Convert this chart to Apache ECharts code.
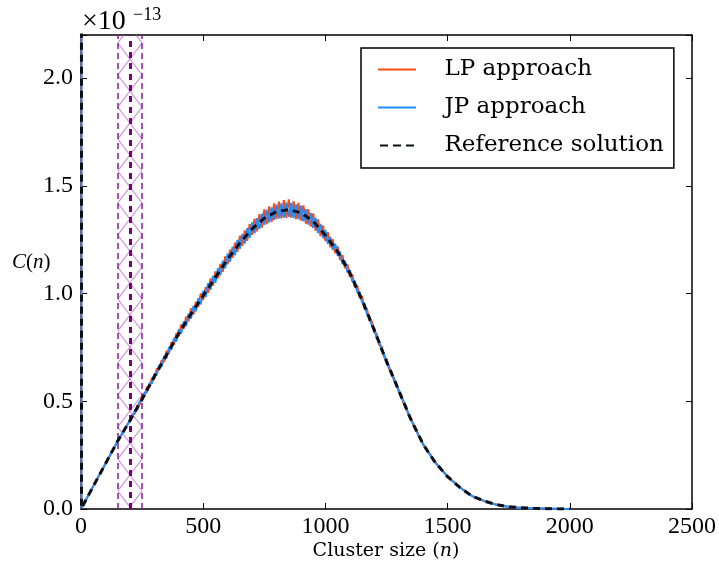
<!DOCTYPE html>
<html><head><meta charset="utf-8">
<script src="https://cdn.jsdelivr.net/npm/echarts@6/dist/echarts.min.js"></script>
<style>html,body{margin:0;padding:0;background:#fff}#c{width:719px;height:567px}</style>
</head><body><div id="c"></div>
<script>
// ---- data (C(n) in units of 1e-13) ----
const xTicks = [0, 500, 1000, 1500, 2000, 2500];
const yTicks = [0.0, 0.5, 1.0, 1.5, 2.0];
const yMax = 2.2;
const regionEdges = [150, 250];
const regionCentre = 200;

// monomer spike at the start (off the top of the chart)
const spikeN = [1, 2];
const spikeLP = [25, 0.004];
const spikeJP = [25, 0.004];
const spikeRef = [25, 0.004];

// LP / JP sampled every 10 from n=10 to n=2000
const lpValues = [
0.021,0.042,0.063,0.084,0.105,0.126,0.147,0.168,0.189,0.21,
0.232,0.251,0.274,0.293,0.316,0.333,0.355,0.371,0.394,0.407,
0.438,0.442,0.481,0.484,0.523,0.522,0.566,0.565,0.607,0.603,
0.651,0.646,0.691,0.683,0.734,0.722,0.774,0.762,0.816,0.801,
0.856,0.836,0.893,0.871,0.931,0.903,0.962,0.938,1.001,0.971,
1.029,1.003,1.069,1.036,1.103,1.071,1.137,1.101,1.172,1.136,
1.204,1.166,1.236,1.193,1.268,1.221,1.293,1.245,1.322,1.272,
1.347,1.289,1.368,1.306,1.391,1.322,1.404,1.333,1.418,1.346,
1.426,1.349,1.433,1.351,1.437,1.352,1.429,1.345,1.421,1.339,
1.409,1.324,1.392,1.311,1.372,1.291,1.344,1.267,1.316,1.243,
1.285,1.215,1.252,1.187,1.219,1.155,1.178,1.117,1.136,1.078,
1.089,1.029,1.038,0.981,0.987,0.929,0.929,0.874,0.872,0.819,
0.814,0.762,0.755,0.705,0.696,0.65,0.641,0.597,0.586,0.544,
0.531,0.49,0.476,0.437,0.422,0.388,0.375,0.342,0.328,0.297,
0.288,0.263,0.253,0.229,0.219,0.2,0.192,0.174,0.166,0.148,
0.143,0.128,0.122,0.109,0.102,0.091,0.086,0.075,0.069,0.06,
0.056,0.05,0.047,0.041,0.038,0.033,0.031,0.026,0.024,0.02,
0.018,0.016,0.014,0.012,0.01,0.009,0.008,0.007,0.006,0.006,
0.005,0.005,0.004,0.004,0.003,0.003,0.003,0.002,0.002,0.002,
0.002,0.001,0.001,0.001,0.001,0.001,0.001,0,0,0];

const jpValues = [
0.021,0.042,0.063,0.084,0.105,0.126,0.147,0.168,0.189,0.21,
0.23,0.253,0.272,0.295,0.314,0.335,0.352,0.373,0.39,0.413,
0.424,0.457,0.462,0.499,0.501,0.541,0.542,0.584,0.583,0.627,
0.622,0.668,0.661,0.71,0.7,0.751,0.739,0.792,0.777,0.833,
0.814,0.87,0.849,0.907,0.884,0.943,0.917,0.978,0.95,1.013,
0.984,1.048,1.017,1.082,1.05,1.117,1.084,1.152,1.117,1.186,
1.148,1.217,1.178,1.248,1.207,1.276,1.232,1.303,1.258,1.33,
1.28,1.35,1.299,1.371,1.319,1.388,1.33,1.4,1.341,1.413,
1.349,1.418,1.352,1.422,1.356,1.421,1.35,1.414,1.345,1.408,
1.335,1.391,1.32,1.374,1.305,1.351,1.281,1.323,1.257,1.295,
1.231,1.263,1.203,1.231,1.175,1.194,1.137,1.152,1.099,1.11,
1.056,1.059,1.007,1.007,0.959,0.953,0.904,0.896,0.849,0.839,
0.793,0.78,0.736,0.721,0.679,0.664,0.626,0.609,0.573,0.554,
0.519,0.5,0.466,0.445,0.412,0.395,0.367,0.348,0.321,0.302,
0.281,0.268,0.247,0.234,0.213,0.204,0.188,0.178,0.162,0.151,
0.139,0.131,0.119,0.111,0.099,0.093,0.083,0.077,0.067,0.061,
0.054,0.052,0.045,0.043,0.036,0.035,0.029,0.028,0.022,0.021,
0.018,0.016,0.014,0.012,0.01,0.009,0.008,0.007,0.006,0.006,
0.005,0.005,0.004,0.004,0.003,0.003,0.003,0.002,0.002,0.002,
0.002,0.001,0.001,0.001,0.001,0.001,0.001,0,0,0];

// reference solution sampled every 50 from n=50 to n=2000
const refValues = [
0.105,0.21,0.315,0.41,0.51,0.615,0.715,0.815,0.905,0.99,
1.075,1.16,1.235,1.30,1.35,1.38,1.39,1.375,1.335,1.27,
1.195,1.095,0.97,0.83,0.685,0.55,0.415,0.30,0.215,0.15,
0.10,0.06,0.037,0.02,0.01,0.006,0.003,0.001,0.0005,0];

const seriesNames = ['LP approach', 'JP approach', 'Reference solution'];

// ---- build series data ----
const sampleN10 = lpValues.map((_, i) => (i + 1) * 10);
const sampleN50 = refValues.map((_, i) => (i + 1) * 50);
function pairs(ns, vs) { return ns.map((n, i) => [n, vs[i]]); }
const lpData = pairs(spikeN, spikeLP).concat(pairs(sampleN10, lpValues));
const jpData = pairs(spikeN, spikeJP).concat(pairs(sampleN10, jpValues));
const refData = pairs(spikeN, spikeRef).concat(pairs(sampleN50, refValues));

const tickFont = 'Liberation Serif';
const chart = echarts.init(document.getElementById('c'), null, {renderer: 'canvas'});

const axisCommon = {
  type: 'value',
  axisLine: {show: true, onZero: false, lineStyle: {color: '#000', width: 1.5}},
  axisTick: {show: true, inside: true, length: 6, lineStyle: {color: '#000', width: 1}},
  splitLine: {show: false}
};

const solidIcon = 'path://M0,0H38V2H0Z';
const dashIcon = 'path://M0,0H8V2H0Z M13,0H21V2H13Z M26,0H34V2H26Z';

const option = {
  animation: false,
  backgroundColor: '#fff',
  grid: {left: 81, right: 27, top: 35, bottom: 58, containLabel: false},
  xAxis: [
    Object.assign({}, axisCommon, {
      position: 'bottom', min: xTicks[0], max: xTicks[xTicks.length - 1], interval: 500,
      axisLabel: {show: true, margin: 6, color: '#000', fontFamily: tickFont, fontSize: 24,
        formatter: v => String(v)}
    }),
    Object.assign({}, axisCommon, {
      position: 'top', min: xTicks[0], max: xTicks[xTicks.length - 1], interval: 500,
      axisLabel: {show: false}
    })
  ],
  yAxis: [
    Object.assign({}, axisCommon, {
      position: 'left', min: 0, max: yMax, interval: 0.5,
      axisLabel: {show: true, margin: 8, color: '#000', fontFamily: tickFont, fontSize: 24,
        formatter: v => (yTicks.some(t => Math.abs(t - v) < 1e-9) ? v.toFixed(1) : '')}
    }),
    Object.assign({}, axisCommon, {
      position: 'right', min: 0, max: yMax, interval: 0.5,
      axisLabel: {show: false}
    })
  ],
  legend: {
    data: [
      {name: seriesNames[0], icon: solidIcon},
      {name: seriesNames[1], icon: solidIcon},
      {name: seriesNames[2], icon: dashIcon}
    ],
    orient: 'vertical',
    left: 361, top: 48,
    padding: [8, 10, 9, 17],
    itemGap: 11,
    itemWidth: 39, itemHeight: 2,
    backgroundColor: '#fff',
    borderColor: '#000', borderWidth: 1.5, borderRadius: 0,
    textStyle: {fontFamily: 'DejaVu Serif', fontSize: 23, color: '#000', padding: [0, 0, 0, 23], lineHeight: 27}
  },
  graphic: [
    {type: 'text', left: 82, top: 8, style: {text: '×10', font: '28px "Liberation Serif"', fill: '#000'}},
    {type: 'text', left: 133, top: 6, style: {text: '−13', font: '18px "Liberation Serif"', fill: '#000'}},
    {type: 'text', left: 12, top: 252, style: {text: '{i|C}({i|n})', font: '21px "Liberation Serif"', fill: '#000',
      rich: {i: {fontStyle: 'italic', fontFamily: 'Liberation Serif', fontSize: 21}}}},
    {type: 'text', x: 386, y: 551, style: {text: 'Cluster size ({i|n})', font: '19px "DejaVu Serif"', fill: '#000',
      align: 'center', verticalAlign: 'middle', textAlign: 'center', textVerticalAlign: 'middle',
      rich: {i: {fontStyle: 'italic', fontFamily: 'DejaVu Serif', fontSize: 19}}}}
  ],
  series: [
    {
      name: 'region', type: 'custom', silent: true, z: 1,
      data: [[regionEdges[0], regionEdges[1]]],
      renderItem: function (params, api) {
        const cs = params.coordSys;
        const x0 = api.coord([api.value(0), 0])[0];
        const x1 = api.coord([api.value(1), 0])[0];
        const top = cs.y, bot = cs.y + cs.height;
        const period = 32;
        const children = [];
        for (let y = top + 8 - period; y < bot; y += period) {
          children.push({type: 'line', shape: {x1: x0, y1: y, x2: x1, y2: y + period},
            style: {stroke: 'rgba(175,80,190,0.65)', lineWidth: 1.2}});
          children.push({type: 'line', shape: {x1: x1, y1: y, x2: x0, y2: y + period},
            style: {stroke: 'rgba(175,80,190,0.65)', lineWidth: 1.2}});
        }
        return {type: 'group', children: children,
          clipPath: {type: 'rect', shape: {x: x0, y: top, width: x1 - x0, height: cs.height}}};
      }
    },
    {
      name: 'regionLines', type: 'line', data: [], z: 2, silent: true,
      markLine: {
        silent: true, symbol: ['none', 'none'], label: {show: false}, animation: false,
        data: [
          {xAxis: regionEdges[0], lineStyle: {color: '#8b1a9b', width: 1.5, type: [6, 4]}},
          {xAxis: regionEdges[1], lineStyle: {color: '#8b1a9b', width: 1.5, type: [6, 4]}},
          {xAxis: regionCentre, lineStyle: {color: '#7a007a', width: 3, type: [6, 5]}}
        ]
      }
    },
    {
      name: seriesNames[0], type: 'line', data: lpData, z: 3,
      showSymbol: false, symbol: 'none', clip: true,
      lineStyle: {color: '#ff4a14', width: 2}, itemStyle: {color: '#ff4a14'}
    },
    {
      name: seriesNames[1], type: 'line', data: jpData, z: 4,
      showSymbol: false, symbol: 'none', clip: true,
      lineStyle: {color: '#1e8fff', width: 2}, itemStyle: {color: '#1e8fff'}
    },
    {
      name: seriesNames[2], type: 'line', data: refData, z: 5,
      showSymbol: false, symbol: 'none', clip: true,
      lineStyle: {color: '#0b0f1a', width: 3, type: [7, 5]}, itemStyle: {color: '#0b0f1a'}
    }
  ]
};
chart.setOption(option);
</script>
</body></html>
